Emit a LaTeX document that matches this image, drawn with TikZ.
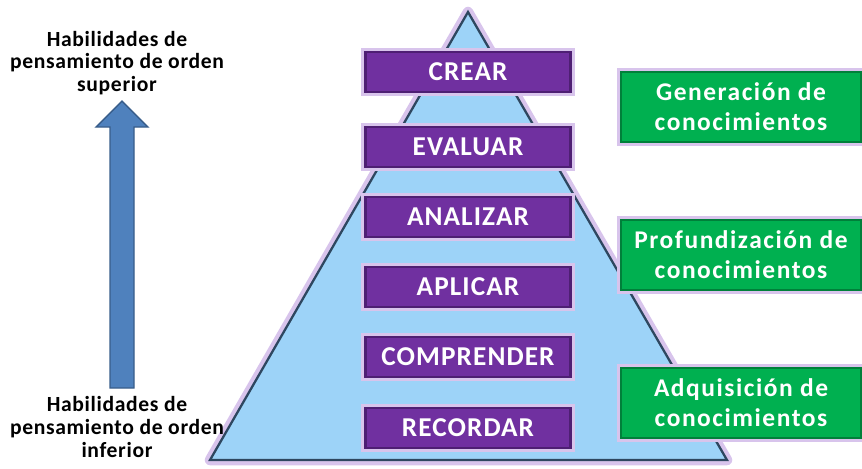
\documentclass[tikz,border=0pt]{standalone}
\usepackage{fontspec}
\setmainfont{Carlito}
\newfontfamily\levelfont[LetterSpace=4]{Carlito}
\newfontfamily\stagefont[LetterSpace=6]{Carlito}
\newfontfamily\orderfont[LetterSpace=3]{Carlito}
\definecolor{levelviolet}{HTML}{7030A0}
\definecolor{leveledge}{HTML}{4E1F73}
\definecolor{stagegreen}{HTML}{00B050}
\definecolor{stageedge}{HTML}{00803A}
\definecolor{skyblue}{HTML}{9DD3F8}
\definecolor{pyramidedge}{HTML}{2E4760}
\definecolor{glow}{HTML}{D8C4EC}
\definecolor{arrowblue}{HTML}{4F81BD}
\definecolor{arrowedge}{HTML}{385D8A}

\begin{document}
\begin{tikzpicture}[x=0.02cm, y=-0.02cm,
  level/.style={draw=leveledge, fill=levelviolet, line width=1.2pt, text=white,
    font=\levelfont\bfseries\fontsize{15.5}{17}\selectfont, minimum width=4.1cm, minimum height=0.8cm,
    inner sep=0pt, preaction={draw=glow, line width=5pt}},
  stage/.style={draw=stageedge, fill=stagegreen, line width=1.2pt, text=white, align=center,
    font=\stagefont\bfseries\fontsize{14.5}{17}\selectfont, minimum width=4.8cm, minimum height=1.4cm,
    inner sep=0pt, preaction={draw=glow, line width=5pt}},
  order/.style={align=center, font=\orderfont\bfseries\fontsize{12.3}{13}\selectfont}]
\useasboundingbox (0,0) rectangle (862,468);
\def\pyramid{(468,12) -- (727,460) -- (210,460) -- cycle}
\draw[glow, line width=6pt, line join=round] \pyramid;
\draw[fill=skyblue, draw=pyramidedge, line width=1.3pt] \pyramid;

% levels of the pyramid
\node[level] (crear) at (468,72) {CREAR};
\node[level] (evaluar) at (468,147) {EVALUAR};
\node[level] (analizar) at (468,217) {ANALIZAR};
\node[level] (aplicar) at (468,287) {APLICAR};
\node[level] (comprender) at (468,357) {COMPRENDER};
\node[level] (recordar) at (468,428) {RECORDAR};

% stages of knowledge
\node[stage] (generacion) at (741,107) {Generación de\\conocimientos};
\node[stage] (profundizacion) at (741,255) {Profundización de\\conocimientos};
\node[stage] (adquisicion) at (741,403) {Adquisición de\\conocimientos};

% orders of thinking
\node[order] (superior) at (117,63) {Habilidades de\\pensamiento de orden\\superior};
\node[order] (inferior) at (117,427) {Habilidades de\\pensamiento de orden\\inferior};
\draw[fill=arrowblue, draw=arrowedge, line width=0.8pt]
  (110,388) -- (110,127) -- (96,127) -- (122,101) -- (148,127) -- (134,127) -- (134,388) -- cycle;
\end{tikzpicture}
\end{document}
